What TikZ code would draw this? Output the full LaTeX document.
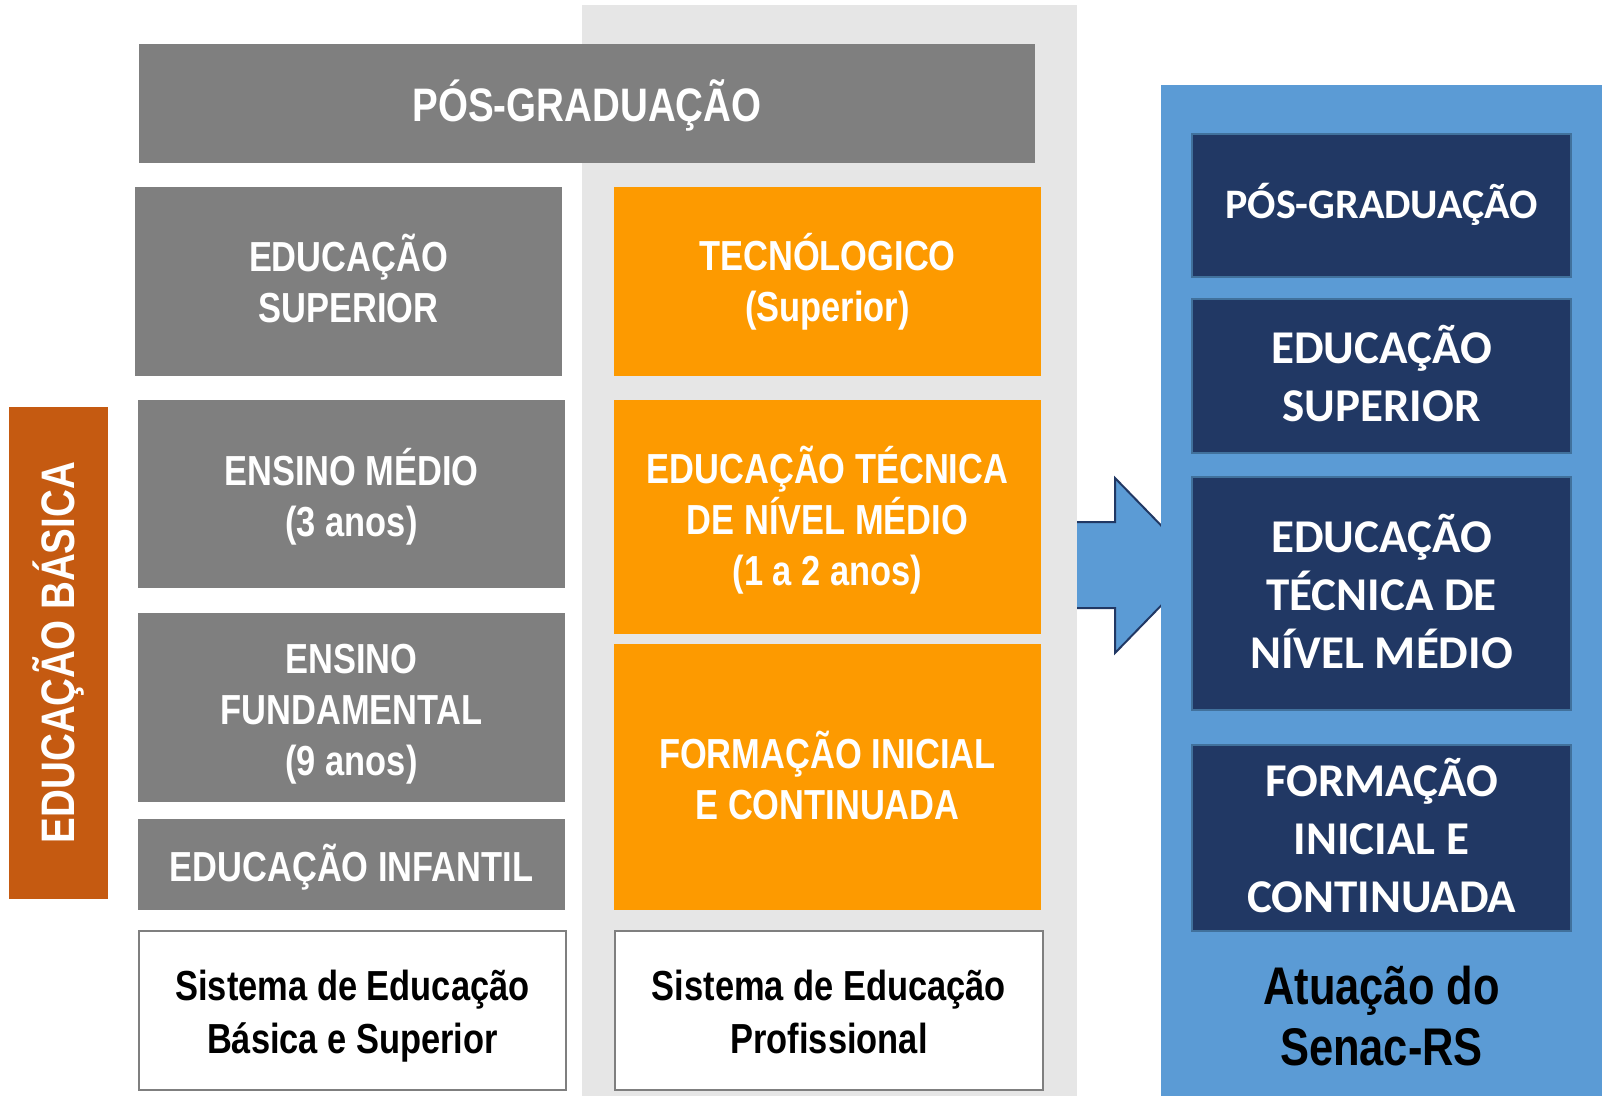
\documentclass[tikz,border=0pt]{standalone}
\usepackage{fontspec}
\setmainfont{Liberation Sans}
\newfontfamily\narrowfont[FakeStretch=0.82]{Liberation Sans}
\newfontfamily\calfont{Carlito}
\definecolor{boxgray}{HTML}{7F7F7F}
\definecolor{colgray}{HTML}{E6E6E6}
\definecolor{orangebox}{HTML}{FD9A00}
\definecolor{rust}{HTML}{C55A11}
\definecolor{panelblue}{HTML}{5B9BD5}
\definecolor{darkblue}{HTML}{213864}
\definecolor{edgeblue}{HTML}{41719C}
\tikzset{
  base/.style={inner sep=0pt, outer sep=0pt, align=center},
  graybox/.style={base, fill=boxgray},
  orangebx/.style={base, fill=orangebox},
  sysbox/.style={base, fill=white, draw=boxgray, line width=2.5pt},
  bluebox/.style={base, fill=darkblue, draw=edgeblue, line width=2pt},
  wtext/.style={base, text=white, font=\narrowfont\bfseries\fontsize{42}{51}\selectfont},
  ktext/.style={base, text=black, font=\narrowfont\bfseries\fontsize{42}{53}\selectfont},
  btext/.style={base, text=white, font=\calfont\bfseries\fontsize{47}{58}\selectfont},
}
\begin{document}
\begin{tikzpicture}[x=1pt,y=-1pt]
\useasboundingbox (0,0) rectangle (1602,1096);
\fill[white] (0,0) rectangle (1602,1096);
% arrow (behind column and panel)
\draw[fill=panelblue, draw=darkblue, line width=2pt, line join=miter]
  (1070,522) -- (1115,522) -- (1115,478) -- (1200,565.5) -- (1115,653) -- (1115,608) -- (1070,608);
% light gray column
\fill[colgray] (582,5) rectangle (1077,1096);
% blue panel
\fill[panelblue] (1161,85) rectangle (1602,1096);
% left / middle boxes
\node[graybox, minimum width=896, minimum height=119,
  label={[wtext, font=\narrowfont\bfseries\fontsize{47}{56}\selectfont, yshift=-2pt]center:PÓS-GRADUAÇÃO}] (pos) at (587,103.5) {};
\node[graybox, minimum width=427, minimum height=189,
  label={[wtext, yshift=3pt]center:{EDUCAÇÃO\\SUPERIOR}}] (esup) at (348.5,281.5) {};
\node[orangebx, minimum width=427, minimum height=189,
  label={[wtext]center:{TECNÓLOGICO\\(Superior)}}] (tecno) at (827.5,281.5) {};
\node[graybox, minimum width=427, minimum height=188,
  label={[wtext, yshift=-3pt]center:{ENSINO MÉDIO\\(3 anos)}}] (emed) at (351.5,494) {};
\node[orangebx, minimum width=427, minimum height=234,
  label={[wtext, yshift=-3pt]center:{EDUCAÇÃO TÉCNICA\\DE NÍVEL MÉDIO\\(1 a 2 anos)}}] (etec) at (827.5,517) {};
\node[graybox, minimum width=427, minimum height=189,
  label={[wtext, yshift=-7pt]center:{ENSINO\\FUNDAMENTAL\\(9 anos)}}] (efund) at (351.5,707.5) {};
\node[orangebx, minimum width=427, minimum height=266,
  label={[wtext, yshift=2pt]center:{FORMAÇÃO INICIAL\\E CONTINUADA}}] (fic) at (827.5,777) {};
\node[graybox, minimum width=427, minimum height=91,
  label={[wtext, yshift=-3pt]center:EDUCAÇÃO INFANTIL}] (einf) at (351.5,864.5) {};
\node[sysbox, minimum width=427, minimum height=159,
  label={[ktext, yshift=-6pt]center:{Sistema de Educação\\Básica e Superior}}] (sbas) at (352.5,1010.5) {};
\node[sysbox, minimum width=428, minimum height=159,
  label={[ktext, yshift=-1pt]center:{Sistema de Educação\\Profissional}}] (sprof) at (829,1010.5) {};
% vertical label
\node[base, fill=rust, minimum width=99, minimum height=492] (ebas) at (58.5,652.5) {};
\node[base, text=white, rotate=90, font=\narrowfont\bfseries\fontsize{47}{56}\selectfont] (ebastxt) at (ebas.center) {EDUCAÇÃO BÁSICA};
% right panel boxes
\node[bluebox, minimum width=379, minimum height=143,
  label={[btext, font=\calfont\bfseries\fontsize{42}{58}\selectfont, yshift=1pt]center:PÓS-GRADUAÇÃO}] (bpos) at (1381.5,205.5) {};
\node[bluebox, minimum width=379, minimum height=154,
  label={[btext, yshift=2pt]center:{EDUCAÇÃO\\SUPERIOR}}] (bsup) at (1381.5,376) {};
\node[bluebox, minimum width=379, minimum height=233,
  label={[btext, yshift=2pt]center:{EDUCAÇÃO\\TÉCNICA DE\\NÍVEL MÉDIO}}] (btec) at (1381.5,593.5) {};
\node[bluebox, minimum width=379, minimum height=186,
  label={[btext, yshift=2pt]center:{FORMAÇÃO\\INICIAL E\\CONTINUADA}}] (bfic) at (1381.5,838) {};
\node[base, text=black, font=\narrowfont\bfseries\fontsize{53}{61}\selectfont] (senac) at (1381.5,1016) {Atuação do\\Senac-RS};
\end{tikzpicture}
\end{document}
